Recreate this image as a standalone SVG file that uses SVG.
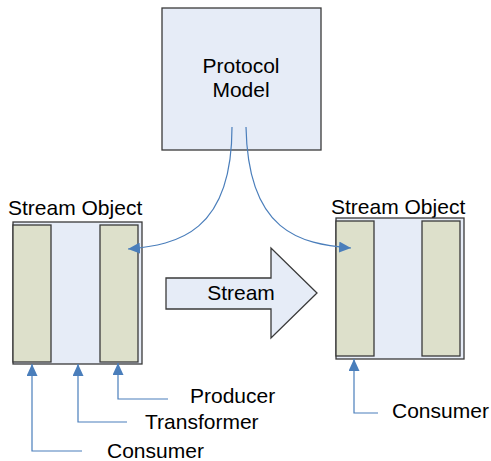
<svg xmlns="http://www.w3.org/2000/svg" width="491" height="461" viewBox="0 0 491 461">
<defs>
<style>
.box{fill:#e6ecf7;stroke:#3a3a3a;stroke-width:1.3}
.panel{fill:#dde0cb;stroke:#3a3a3a;stroke-width:1.3}
.conn{fill:none;stroke:#4a7ebb;stroke-width:1.2}
text{font-family:"Liberation Sans",Arial,sans-serif;font-size:21px;fill:#000}
</style>
<marker id="ah" viewBox="0 0 12 11" refX="12" refY="5.5" markerWidth="12" markerHeight="11" markerUnits="userSpaceOnUse" orient="auto">
<path d="M0,0 L12,5.5 L0,11 Z" fill="#4a7ebb"/>
</marker>
</defs>
<rect width="491" height="461" fill="#fff"/>
<g id="protocol-model">
<rect class="box" x="162" y="8" width="159" height="142"/>
<text x="241" y="73" text-anchor="middle">Protocol</text>
<text x="241" y="97" text-anchor="middle">Model</text>
</g>
<g id="stream-object-left">
<text x="8" y="215">Stream Object</text>
<rect class="box" x="13" y="222" width="129" height="142"/>
<rect class="panel" x="13" y="225" width="38" height="137"/>
<rect class="panel" x="100" y="225" width="38" height="137"/>
</g>
<g id="stream-object-right">
<text x="331" y="214">Stream Object</text>
<rect class="box" x="336" y="218" width="128" height="141"/>
<rect class="panel" x="336" y="221" width="38" height="135"/>
<rect class="panel" x="422" y="221" width="38" height="135"/>
</g>
<g id="stream-arrow">
<path class="box" d="M166,278 L271,278 L271,248 L317,293 L271,338 L271,309 L166,309 Z"/>
<text x="241" y="300" text-anchor="middle">Stream</text>
</g>
<g id="labels">
<text x="190" y="403">Producer</text>
<text x="145" y="429">Transformer</text>
<text x="107" y="458">Consumer</text>
<text x="392" y="418">Consumer</text>
</g>
<g id="connectors">
<path class="conn" d="M232,127 C232,232 178,245 128,249" marker-end="url(#ah)"/>
<path class="conn" d="M246,127 C248,232 300,244 351,248" marker-end="url(#ah)"/>
<path class="conn" d="M82,451 L32,451 L32,364" marker-end="url(#ah)"/>
<path class="conn" d="M127,422 L78,422 L78,364" marker-end="url(#ah)"/>
<path class="conn" d="M168,399 L118,399 L118,363" marker-end="url(#ah)"/>
<path class="conn" d="M378,413 L354,413 L354,359" marker-end="url(#ah)"/>
</g>
</svg>
